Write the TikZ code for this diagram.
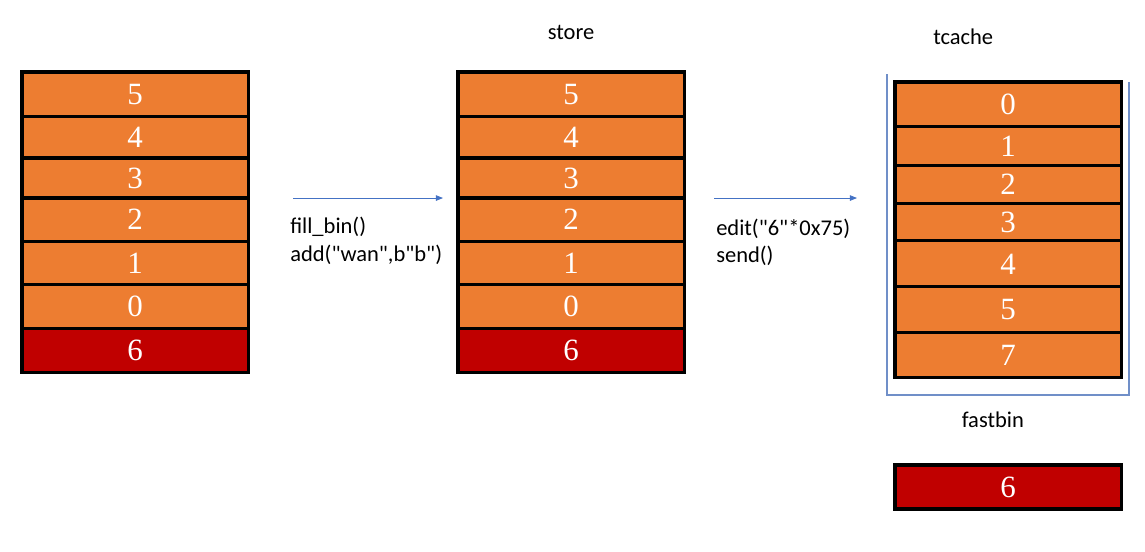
\documentclass[tikz,border=0pt]{standalone}
\usepackage{fontspec}
\usepackage{tikz}
\usetikzlibrary{arrows.meta, positioning}
\newfontfamily\labelfont[Ligatures=TeXOff]{Carlito}
\newfontfamily\digitfont{Liberation Serif}
\definecolor{chunk-orange}{RGB}{237,125,49}
\definecolor{chunk-red}{RGB}{192,0,0}
\definecolor{flow-blue}{RGB}{68,114,196}
\definecolor{bin-frame}{RGB}{112,143,200}

\begin{document}
\begin{tikzpicture}[
    x=0.025cm, y=-0.025cm,
    chunk/.style={rectangle, draw=black, line width=2.2pt, fill=chunk-orange, text=white, minimum width=5.65cm, inner sep=0pt, outer sep=0pt, font=\digitfont\fontsize{22}{22}\selectfont},
    freed/.style={chunk, fill=chunk-red},
    title/.style={inner sep=0pt, font=\labelfont\fontsize{16}{16}\selectfont},
    call/.style={inner sep=0pt, anchor=base west, font=\labelfont\fontsize{16}{16}\selectfont},
    flow/.style={draw=flow-blue, line width=0.6pt, -{Triangle[length=0.18cm, width=0.14cm]}},
]
\useasboundingbox (0,0) rectangle (1145,552);

% Left stack
\node[chunk, minimum height=1.12cm, anchor=north west] (heap5) at (22,72) {5};
\node[chunk, minimum height=1.03cm, below=0pt of heap5] (heap4) {4};
\node[chunk, minimum height=1.0cm, below=0pt of heap4] (heap3) {3};
\node[chunk, minimum height=1.08cm, below=0pt of heap3] (heap2) {2};
\node[chunk, minimum height=1.08cm, below=0pt of heap2] (heap1) {1};
\node[chunk, minimum height=1.1cm, below=0pt of heap1] (heap0) {0};
\node[freed, minimum height=1.1cm, below=0pt of heap0] (heap6) {6};

% Store stack
\node[chunk, minimum height=1.12cm, anchor=north west] (store5) at (458,72) {5};
\node[chunk, minimum height=1.03cm, below=0pt of store5] (store4) {4};
\node[chunk, minimum height=1.0cm, below=0pt of store4] (store3) {3};
\node[chunk, minimum height=1.08cm, below=0pt of store3] (store2) {2};
\node[chunk, minimum height=1.08cm, below=0pt of store2] (store1) {1};
\node[chunk, minimum height=1.1cm, below=0pt of store1] (store0) {0};
\node[freed, minimum height=1.1cm, below=0pt of store0] (store6) {6};
\node[title, above=0.8cm of store5] (storelbl) {store};

% Tcache stack
\node[chunk, minimum height=1.12cm, anchor=north west] (tc0) at (895,82) {0};
\node[chunk, minimum height=0.97cm, below=0pt of tc0] (tc1) {1};
\node[chunk, minimum height=0.95cm, below=0pt of tc1] (tc2) {2};
\node[chunk, minimum height=0.93cm, below=0pt of tc2] (tc3) {3};
\node[chunk, minimum height=1.15cm, below=0pt of tc3] (tc4) {4};
\node[chunk, minimum height=1.15cm, below=0pt of tc4] (tc5) {5};
\node[chunk, minimum height=1.12cm, below=0pt of tc5] (tc7) {7};
\node[title, above=0.92cm of tc0, xshift=-1.12cm] (tcachelbl) {tcache};
\draw[bin-frame, line width=0.8pt] (887,74) -- (887,395) -- (1129,395) -- (1129,82);

% Fastbin
\node[freed, minimum height=1.1cm, anchor=north west] (fast6) at (895,465) {6};
\node[title, above=0.92cm of fast6, xshift=-0.38cm] (fastlbl) {fastbin};

% Steps
\draw[flow, shorten <=1.125cm, shorten >=0.375cm] (heap3.south east) -- (store3.south west);
\node[call] (fillbin) at (290,233) {fill\_bin()};
\node[call] (addcall) at (290,261) {add("wan",b"b")};

\draw[flow, shorten <=0.75cm, shorten >=0.95cm] (store3.south east) -- (store3.south east -| tc0.west);
\node[call] (editcall) at (716,235) {edit("6"*0x75)};
\node[call] (sendcall) at (716,262) {send()};

\end{tikzpicture}
\end{document}
